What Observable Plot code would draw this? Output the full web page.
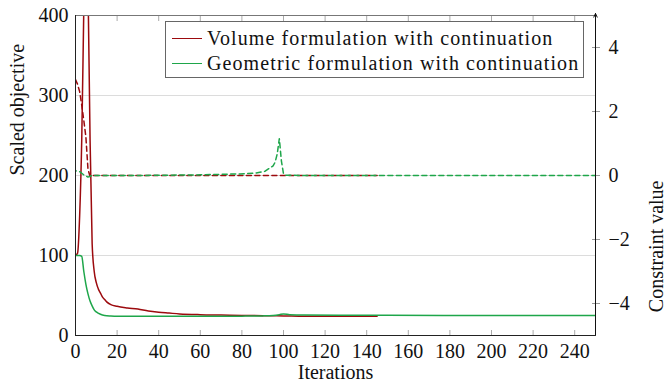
<!DOCTYPE html>
<html><head><meta charset="utf-8">
<script src="https://cdn.jsdelivr.net/npm/d3@7"></script>
<script src="https://cdn.jsdelivr.net/npm/@observablehq/plot@0.6"></script>
<style>
body{margin:0;background:#fff;}
#wrap{position:relative;width:666px;height:391px;}
#legend{position:absolute;left:165px;top:21px;width:417px;height:55px;border:1px solid #666;background:#fff;font-family:"Liberation Serif","Times New Roman",serif;font-size:20px;color:#111;letter-spacing:1.1px;}
.row{position:absolute;left:6px;height:24px;display:flex;align-items:center;white-space:nowrap;}
.sw{width:30px;height:0;border-top:1.6px solid;margin-right:5px;}
</style></head><body><div id="wrap"></div>
<script>
// ---- data ----
const seriesNames = ["Volume formulation with continuation", "Geometric formulation with continuation"];
const xTicks = [0,20,40,60,80,100,120,140,160,180,200,220,240];
const leftTicks = [0,100,200,300,400];
const rightTicks = [-4,-2,0,2,4];

const volIter = [0,1,2,3,4,5,6,7,8,9,10,11,12,13,14,15,17,20,25,30,35,40,45,50,60,70,80,90,100,110,120,130,145];
const volObj  = [100,103,150,245,410,560,440,245,115,80,66,58,53,48,45,42,38.5,36.5,34.5,33,30.5,29,28,27,26,25.5,25,24.8,24.5,24,24,24,24];
const volCIter = [0,1,2,3,4,5,6,7,8,20,60,100,145];
const volCon   = [3.0,2.85,2.62,2.2,1.72,1.2,0.2,-0.03,0,0,0,0,0];

const geoIter = [0,1,2,3,4,5,6,7,8,9,10,12,14,17,20,40,60,80,90,95,98,100,103,110,150,200,250];
const geoObj  = [100,100,100,99,80,64,52,43,37,32,29.5,26.5,25,24.3,24,24,24,24.2,24.5,25,26,27,26,25.5,25.2,25,25];
const geoCIter = [0,2,4,6,8,30,60,79,86,91,95,96,97,98,99,100,101,110,250];
const geoCon   = [0.15,0.12,0.02,-0.05,0,0,0.02,0.05,0.07,0.13,0.3,0.42,0.68,1.15,0.45,0.05,0.01,0,0];

// ---- build ----
const red = "#9c0a0e", green = "#1ea64a";
const rows = (xs, ys) => xs.map((x,i) => ({it:x, v:ys[i]}));
const toLeft = v => (v + 5) * 40;   // right axis [-5,5] -> left axis [0,400]
const fmtR = v => v < 0 ? "\u2212" + Math.abs(v) : String(v);
const xDomain = [0,250], yDomain = [0,400];

const chart = Plot.plot({
  width:666, height:391,
  marginLeft:75, marginRight:71, marginTop:15, marginBottom:56,
  style:{fontFamily:"'Liberation Serif', 'Times New Roman', serif", fontSize:"20px", background:"#fff", color:"#111", overflow:"visible"},
  x:{domain:xDomain}, y:{domain:yDomain},
  marks:[
    Plot.gridY(leftTicks, {stroke:"#dcdcdc", strokeOpacity:1}),
    Plot.axisX({ticks:xTicks, tickSize:0, tickPadding:8, label:null}),
    Plot.axisX({ticks:xTicks, tickSize:-5, tickFormat:()=>"", label:null, stroke:"#aaa"}),
    Plot.axisX({anchor:"top", ticks:xTicks, tickSize:-5, tickFormat:()=>"", label:null, stroke:"#aaa"}),
    Plot.axisY({ticks:leftTicks, tickSize:0, tickPadding:7, label:null}),
    Plot.axisY({anchor:"right", ticks:rightTicks.map(toLeft), tickFormat:y => fmtR(Math.round(y/40 - 5)), tickSize:0, tickPadding:13, label:null}),
    Plot.axisY({anchor:"right", ticks:rightTicks.map(toLeft), tickFormat:()=>"", tickSize:4, label:null, stroke:"#999"}),
    Plot.axisY({anchor:"right", ticks:rightTicks.map(toLeft), tickFormat:()=>"", tickSize:-4, label:null, stroke:"#999"}),
    Plot.line(rows(volIter, volObj), {x:"it", y:"v", stroke:red, strokeWidth:1.5, curve:"monotone-x", clip:true}),
    Plot.line(rows(geoIter, geoObj), {x:"it", y:"v", stroke:green, strokeWidth:1.5, curve:"monotone-x", clip:true}),
    Plot.line(rows(volCIter, volCon), {x:"it", y:d => toLeft(d.v), stroke:red, strokeWidth:1.5, strokeDasharray:"5,3.5", clip:true}),
    Plot.line(rows(geoCIter, geoCon), {x:"it", y:d => toLeft(d.v), stroke:green, strokeWidth:1.5, strokeDasharray:"5,3.5", strokeDashoffset:4.2, clip:true}),
    Plot.ruleY([yDomain[1]], {stroke:"#777"}),
    Plot.ruleY([yDomain[0]], {stroke:"#222"}),
    Plot.ruleX([xDomain[0]], {stroke:"#222"}),
    Plot.arrow([0], {x1:xDomain[1], x2:xDomain[1], y1:yDomain[0], y2:yDomain[1] + 2.5, stroke:"#111", strokeWidth:1, headLength:6, headAngle:50}),
    Plot.text(["Scaled objective"], {frameAnchor:"left", dx:-58, rotate:-90, text:d=>d}),
    Plot.text(["Constraint value"], {frameAnchor:"right", dx:61, dy:5, rotate:-90, text:d=>d}),
    Plot.text(["Iterations"], {frameAnchor:"bottom", dy:43, text:d=>d})
  ]
});
const wrap = document.getElementById("wrap");
wrap.appendChild(chart);
const lg = document.createElement("div");
lg.id = "legend";
[red, green].forEach((c, i) => {
  const r = document.createElement("div");
  r.className = "row";
  r.style.top = (4 + i*25) + "px";
  const sw = document.createElement("span");
  sw.className = "sw"; sw.style.borderColor = c;
  const t = document.createElement("span");
  t.textContent = seriesNames[i];
  r.appendChild(sw); r.appendChild(t);
  lg.appendChild(r);
});
wrap.appendChild(lg);
</script></body></html>
